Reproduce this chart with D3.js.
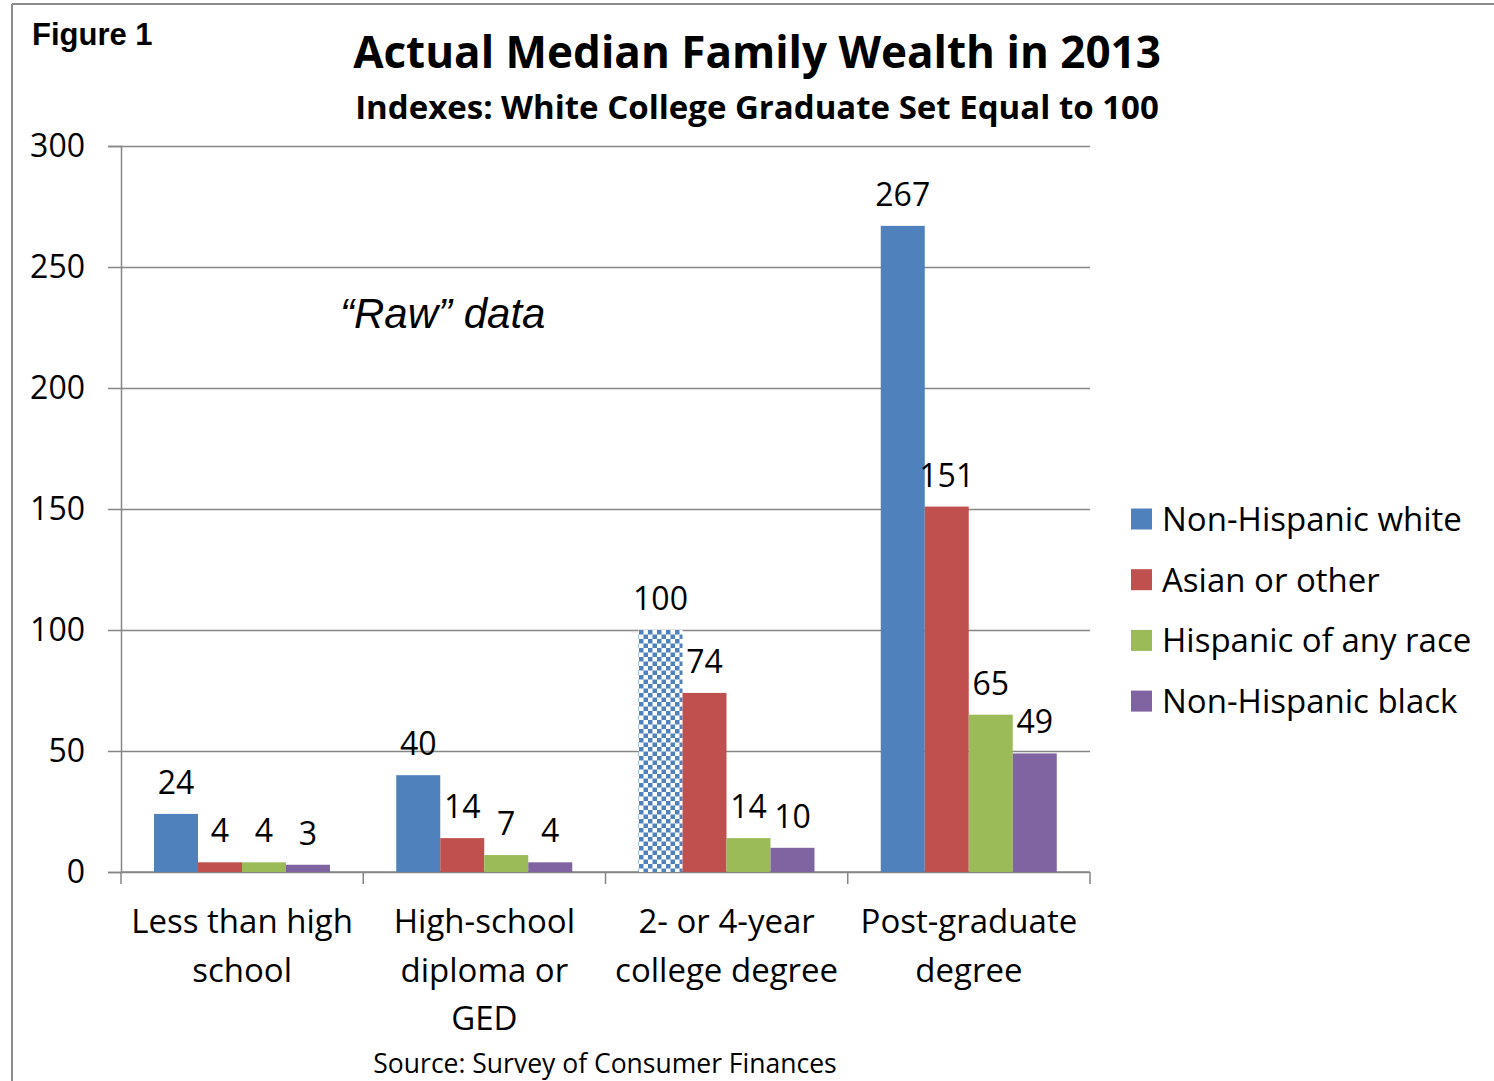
<!DOCTYPE html>
<html>
<head>
<meta charset="utf-8">
<script src="https://cdn.jsdelivr.net/npm/d3@7"></script>
<style>
  body { margin: 0; background: #fff; }
  svg text { fill: #000; }
</style>
</head>
<body>
<svg id="chart" width="1494" height="1081"></svg>
<script>
// data
var categories = ["Less than high school", "High-school diploma or GED", "2- or 4-year college degree", "Post-graduate degree"];
var categoryLines = [["Less than high", "school"], ["High-school", "diploma or", "GED"], ["2- or 4-year", "college degree"], ["Post-graduate", "degree"]];
var series = ["Non-Hispanic white", "Asian or other", "Hispanic of any race", "Non-Hispanic black"];
var white = [24, 40, 100, 267];
var asian = [4, 14, 74, 151];
var hispanic = [4, 7, 14, 65];
var black = [3, 4, 10, 49];
var yTicks = [0, 50, 100, 150, 200, 250, 300];
var colors = ["#4F81BD", "#C0504D", "#9BBB59", "#8064A2"];

var values = [white, asian, hispanic, black];
var svg = d3.select("#chart");
var font = "'Open Sans', Lato, sans-serif";

var plotLeft = 121, plotRight = 1090, plotTop = 146, plotBottom = 872;

// border of the figure frame
svg.append("line").attr("x1", 12).attr("x2", 1494).attr("y1", 4).attr("y2", 4)
    .attr("stroke", "#8c8c8c").attr("stroke-width", 2);
svg.append("line").attr("x1", 12).attr("x2", 12).attr("y1", 4).attr("y2", 1081)
    .attr("stroke", "#8c8c8c").attr("stroke-width", 2);

// checkerboard for the reference bar
var cell = 4.5;
var pat = svg.append("defs").append("pattern")
    .attr("id", "checks").attr("patternUnits", "userSpaceOnUse")
    .attr("width", cell * 2).attr("height", cell * 2).attr("x", 639).attr("y", 630);
pat.append("rect").attr("width", cell * 2).attr("height", cell * 2).attr("fill", "#fff");
pat.append("rect").attr("width", cell).attr("height", cell).attr("fill", colors[0]);
pat.append("rect").attr("x", cell).attr("y", cell).attr("width", cell).attr("height", cell).attr("fill", colors[0]);

var x = d3.scaleBand().domain(categories).range([plotLeft, plotRight]);
var xs = d3.scaleBand().domain(series).range([33, 209]);
var y = d3.scaleLinear().domain([0, 300]).range([plotBottom, plotTop]);

// gridlines + y labels
var yAxis = svg.append("g")
    .attr("transform", "translate(" + plotLeft + ",0)")
    .call(d3.axisLeft(y).tickValues(yTicks).tickSize(13).tickPadding(23));
yAxis.select(".domain").attr("stroke", "#868686").attr("stroke-width", 1.5);
yAxis.selectAll(".tick line").attr("stroke", "#868686").attr("stroke-width", 1.5)
    .attr("x2", plotRight - plotLeft).attr("x1", -13);
yAxis.selectAll(".tick text").attr("font-family", font).attr("font-size", 32).attr("fill", "#000");

// x axis
var xAxis = svg.append("g").attr("transform", "translate(0," + plotBottom + ")");
xAxis.append("line").attr("x1", plotLeft).attr("x2", plotRight)
    .attr("stroke", "#868686").attr("stroke-width", 1.5);
xAxis.selectAll("line.tk").data(categories.concat(["end"])).enter().append("line")
    .attr("class", "tk")
    .attr("x1", function(d) { return d === "end" ? plotRight : x(d); })
    .attr("x2", function(d) { return d === "end" ? plotRight : x(d); })
    .attr("y1", 0).attr("y2", 12)
    .attr("stroke", "#868686").attr("stroke-width", 1.5);

// category labels
categories.forEach(function(c, i) {
    var t = svg.append("text")
        .attr("text-anchor", "middle")
        .attr("font-family", font).attr("font-size", 33)
        .attr("x", x(c) + x.bandwidth() / 2).attr("y", 933);
    categoryLines[i].forEach(function(line, j) {
        t.append("tspan").attr("x", x(c) + x.bandwidth() / 2)
            .attr("dy", j === 0 ? 0 : 48.5).text(line);
    });
});

// bars
series.forEach(function(s, si) {
    var g = svg.append("g");
    g.selectAll("rect").data(values[si]).enter().append("rect")
        .attr("x", function(d, i) { return x(categories[i]) + xs(s); })
        .attr("width", xs.bandwidth())
        .attr("y", function(d) { return y(d); })
        .attr("height", function(d) { return plotBottom - y(d); })
        .attr("fill", function(d, i) { return (si === 0 && i === 2) ? "url(#checks)" : colors[si]; });
    g.selectAll("text").data(values[si]).enter().append("text")
        .attr("text-anchor", "middle")
        .attr("font-family", font).attr("font-size", 32)
        .attr("x", function(d, i) { return x(categories[i]) + xs(s) + xs.bandwidth() / 2; })
        .attr("y", function(d) { return y(d) - 20; })
        .text(function(d) { return d; });
});

// legend
series.forEach(function(s, i) {
    var ly = 519 + i * 60.7;
    svg.append("rect").attr("x", 1131).attr("y", ly - 10.5).attr("width", 21).attr("height", 21)
        .attr("fill", colors[i]);
    svg.append("text").attr("x", 1162).attr("y", ly + 12)
        .attr("font-family", font).attr("font-size", 33).text(s);
});

// titles
svg.append("text").attr("x", 32).attr("y", 45)
    .attr("font-family", "'Liberation Sans', Arial, sans-serif").attr("font-weight", "bold")
    .attr("font-size", 31).text("Figure 1");
svg.append("text").attr("x", 757).attr("y", 68).attr("text-anchor", "middle")
    .attr("font-family", font).attr("font-weight", "bold").attr("font-size", 44)
    .text("Actual Median Family Wealth in 2013");
svg.append("text").attr("x", 757).attr("y", 119).attr("text-anchor", "middle")
    .attr("font-family", font).attr("font-weight", "bold").attr("font-size", 33)
    .text("Indexes: White College Graduate Set Equal to 100");
svg.append("text").attr("x", 340).attr("y", 328)
    .attr("font-family", "'Liberation Sans', Arial, sans-serif").attr("font-style", "italic")
    .attr("font-size", 42).text("\u201CRaw\u201D data");
svg.append("text").attr("x", 605).attr("y", 1073).attr("text-anchor", "middle")
    .attr("font-family", font).attr("font-size", 26.5)
    .text("Source: Survey of Consumer Finances");
</script>
</body>
</html>
